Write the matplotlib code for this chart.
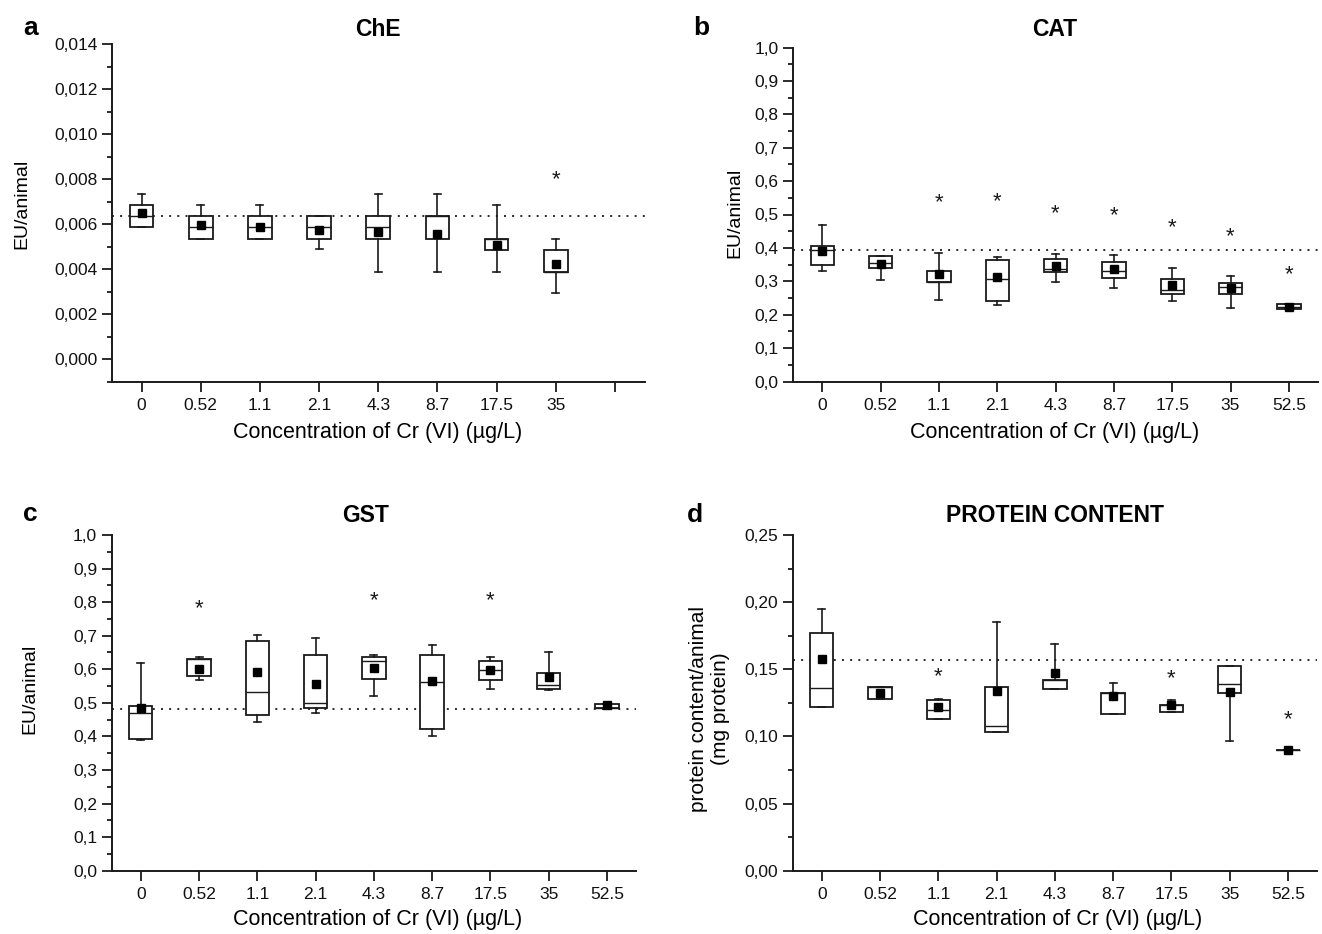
import matplotlib
matplotlib.use("Agg")
import matplotlib.pyplot as plt
from matplotlib.ticker import MultipleLocator

plt.rcParams['font.family'] = ['Liberation Sans', 'DejaVu Sans']

# ---------------- data ----------------
conc_labels = ["0", "0.52", "1.1", "2.1", "4.3", "8.7", "17.5", "35", "52.5"]
conc_labels_a = ["0", "0.52", "1.1", "2.1", "4.3", "8.7", "17.5", "35", ""]

# Panel a: ChE (8 groups)
che_whi  = [0.00733, 0.00683, 0.00683, 0.00634, 0.00733, 0.00733, 0.00683, 0.00536]
che_q3   = [0.00683, 0.00634, 0.00634, 0.00634, 0.00634, 0.00634, 0.00536, 0.00487]
che_med  = [0.00636, 0.00587, 0.00587, 0.00587, 0.00587, 0.00634, 0.00536, 0.00389]
che_q1   = [0.00587, 0.00536, 0.00536, 0.00536, 0.00536, 0.00536, 0.00487, 0.00389]
che_wlo  = [0.00587, 0.00536, 0.00536, 0.00489, 0.00389, 0.00389, 0.00389, 0.00293]
che_mean = [0.00650, 0.00594, 0.00589, 0.00575, 0.00563, 0.00556, 0.00507, 0.00424]
che_star_idx = [7]
che_star_val = [0.0082]
che_ref = 0.00636

# Panel b: CAT
cat_whi  = [0.468, 0.375, 0.384, 0.373, 0.382, 0.378, 0.339, 0.317, 0.231]
cat_q3   = [0.407, 0.375, 0.332, 0.363, 0.367, 0.359, 0.307, 0.294, 0.231]
cat_med  = [0.395, 0.356, 0.297, 0.307, 0.337, 0.332, 0.273, 0.282, 0.224]
cat_q1   = [0.348, 0.340, 0.297, 0.242, 0.327, 0.311, 0.263, 0.263, 0.217]
cat_wlo  = [0.330, 0.303, 0.244, 0.229, 0.299, 0.280, 0.242, 0.221, 0.217]
cat_mean = [0.390, 0.352, 0.323, 0.313, 0.347, 0.337, 0.289, 0.279, 0.224]
cat_star_idx = [2, 3, 4, 5, 6, 7, 8]
cat_star_val = [0.551, 0.553, 0.516, 0.510, 0.476, 0.449, 0.334]
cat_ref = 0.395

# Panel c: GST
gst_whi  = [0.618, 0.637, 0.701, 0.692, 0.643, 0.672, 0.637, 0.652, 0.4975]
gst_q3   = [0.4915, 0.631, 0.684, 0.643, 0.637, 0.643, 0.624, 0.590, 0.4975]
gst_med  = [0.471, 0.631, 0.533, 0.4985, 0.625, 0.561, 0.598, 0.554, 0.4837]
gst_q1   = [0.392, 0.581, 0.464, 0.4846, 0.572, 0.423, 0.568, 0.540, 0.4837]
gst_wlo  = [0.389, 0.568, 0.442, 0.4707, 0.519, 0.402, 0.540, 0.537, 0.4837]
gst_mean = [0.486, 0.600, 0.592, 0.555, 0.604, 0.566, 0.598, 0.578, 0.4926]
gst_star_idx = [1, 4, 6]
gst_star_val = [0.794, 0.819, 0.819]
gst_ref = 0.482

# Panel d: protein content
prot_whi  = [0.195, 0.137, 0.128, 0.1855, 0.169, 0.1396, 0.127, 0.1525, 0.0897]
prot_q3   = [0.177, 0.137, 0.127, 0.137, 0.142, 0.1326, 0.1234, 0.1525, 0.0897]
prot_med  = [0.136, 0.137, 0.120, 0.108, 0.142, 0.1326, 0.1234, 0.139, 0.0897]
prot_q1   = [0.122, 0.128, 0.113, 0.103, 0.1356, 0.1165, 0.118, 0.132, 0.0897]
prot_wlo  = [0.122, 0.128, 0.113, 0.103, 0.1356, 0.1165, 0.118, 0.0966, 0.0897]
prot_mean = [0.1575, 0.132, 0.122, 0.1336, 0.147, 0.130, 0.1235, 0.1334, 0.0897]
prot_star_idx = [2, 6, 8]
prot_star_val = [0.148, 0.1465, 0.116]
prot_ref = 0.157

che_yticks = [0.000, 0.002, 0.004, 0.006, 0.008, 0.010, 0.012, 0.014]
che_ytick_labels = ["0,000", "0,002", "0,004", "0,006", "0,008", "0,010", "0,012", "0,014"]
frac_yticks = [0.0, 0.1, 0.2, 0.3, 0.4, 0.5, 0.6, 0.7, 0.8, 0.9, 1.0]
frac_ytick_labels = ["0,0", "0,1", "0,2", "0,3", "0,4", "0,5", "0,6", "0,7", "0,8", "0,9", "1,0"]
prot_yticks = [0.00, 0.05, 0.10, 0.15, 0.20, 0.25]
prot_ytick_labels = ["0,00", "0,05", "0,10", "0,15", "0,20", "0,25"]

# ---------------- figure ----------------
W, H = 1322, 934
fig = plt.figure(figsize=(W / 100, H / 100), dpi=100)

def px_axes(left, right, top, bottom):
    return fig.add_axes([left / W, 1 - bottom / H, (right - left) / W, (bottom - top) / H])

INK = '#1a1a1a'

def draw_panel(ax, whi, q3, med, q1, wlo, mean, star_idx, star_val, ref,
               ylim, yticks, yticklabels, minor, xlabels):
    stats = []
    for i in range(len(med)):
        stats.append(dict(med=med[i], q1=q1[i], q3=q3[i], whislo=wlo[i],
                          whishi=whi[i], mean=mean[i], fliers=[]))
    pos = list(range(len(med)))
    ax.bxp(stats, positions=pos, widths=0.4, capwidths=0.12, showmeans=True,
           patch_artist=True, manage_ticks=False,
           boxprops=dict(facecolor='white', edgecolor=INK, linewidth=1.3),
           whiskerprops=dict(color=INK, linewidth=1.2),
           capprops=dict(color=INK, linewidth=1.2),
           medianprops=dict(color=INK, linewidth=1.0),
           meanprops=dict(marker='s', markerfacecolor='black',
                          markeredgecolor='black', markersize=5.5))
    ax.axhline(ref, color='#2a2a2a', linestyle=(0, (1, 3.2)), linewidth=1.4, zorder=0.5)
    for i, v in zip(star_idx, star_val):
        ax.annotate('*', (i, v), xytext=(0, -7.5), textcoords='offset points',
                    ha='center', va='baseline', fontsize=16, color=INK)
    ax.set_xlim(-0.5, 8.5)
    ax.set_ylim(*ylim)
    ax.set_xticks(range(9))
    ax.set_xticklabels(xlabels)
    ax.set_yticks(yticks)
    ax.set_yticklabels(yticklabels)
    ax.yaxis.set_minor_locator(MultipleLocator(minor))
    for s in ['top', 'right']:
        ax.spines[s].set_visible(False)
    for s in ['left', 'bottom']:
        ax.spines[s].set_linewidth(1.4)
        ax.spines[s].set_color(INK)
    ax.tick_params(axis='both', which='major', direction='out', length=7,
                   width=1.3, color=INK, labelsize=12.5, pad=3.5, labelcolor='#111111')
    ax.tick_params(axis='y', which='minor', direction='out', length=3.5,
                   width=1.3, color=INK)
    ax.tick_params(axis='x', which='major', pad=5)

ax_a = px_axes(112, 644.5, 44.3, 381.5)
draw_panel(ax_a, che_whi, che_q3, che_med, che_q1, che_wlo, che_mean,
           che_star_idx, che_star_val, che_ref, (-0.001, 0.014),
           che_yticks, che_ytick_labels, 0.001, conc_labels_a)

ax_b = px_axes(793, 1318, 47.5, 381.5)
draw_panel(ax_b, cat_whi, cat_q3, cat_med, cat_q1, cat_wlo, cat_mean,
           cat_star_idx, cat_star_val, cat_ref, (0, 1.0),
           frac_yticks, frac_ytick_labels, 0.05, conc_labels)

ax_c = px_axes(111.7, 636, 535, 870.7)
draw_panel(ax_c, gst_whi, gst_q3, gst_med, gst_q1, gst_wlo, gst_mean,
           gst_star_idx, gst_star_val, gst_ref, (0, 1.0),
           frac_yticks, frac_ytick_labels, 0.05, conc_labels)

ax_d = px_axes(792.7, 1317, 535, 870.7)
draw_panel(ax_d, prot_whi, prot_q3, prot_med, prot_q1, prot_wlo, prot_mean,
           prot_star_idx, prot_star_val, prot_ref, (0, 0.25),
           prot_yticks, prot_ytick_labels, 0.025, conc_labels)

def ftext(x, y, s, **kw):
    fig.text(x / W, 1 - y / H, s, **kw)

# titles
ftext(378, 36, "ChE", ha='center', va='baseline', fontsize=16.5, fontweight='bold')
ftext(1055, 36, "CAT", ha='center', va='baseline', fontsize=16.5, fontweight='bold')
ftext(366, 521.5, "GST", ha='center', va='baseline', fontsize=16.5, fontweight='bold')
ftext(1055, 521.5, "PROTEIN CONTENT", ha='center', va='baseline', fontsize=16.5, fontweight='bold')

# panel letters
ftext(23, 35, "a", ha='left', va='baseline', fontsize=19, fontweight='bold')
ftext(693, 35, "b", ha='left', va='baseline', fontsize=19, fontweight='bold')
ftext(23, 521, "c", ha='left', va='baseline', fontsize=19, fontweight='bold')
ftext(687, 522, "d", ha='left', va='baseline', fontsize=19, fontweight='bold')

# x labels
xl = "Concentration of Cr (VI) (\u00b5g/L)"
ftext(378, 433, xl, ha='center', va='center', fontsize=15.5)
ftext(1055, 433, xl, ha='center', va='center', fontsize=15.5)
ftext(378, 919, xl, ha='center', va='center', fontsize=15.5)
ftext(1058, 919, xl, ha='center', va='center', fontsize=15.5)

# y labels
ftext(22, 204, "EU/animal", ha='center', va='center', rotation=90, fontsize=14)
ftext(735, 213, "EU/animal", ha='center', va='center', rotation=90, fontsize=14)
ftext(30, 689, "EU/animal", ha='center', va='center', rotation=90, fontsize=14)
ftext(710, 709, "protein content/animal\n(mg protein)", ha='center', va='center',
      rotation=90, fontsize=15, linespacing=1.2)

fig.savefig("out.png", dpi=100)
